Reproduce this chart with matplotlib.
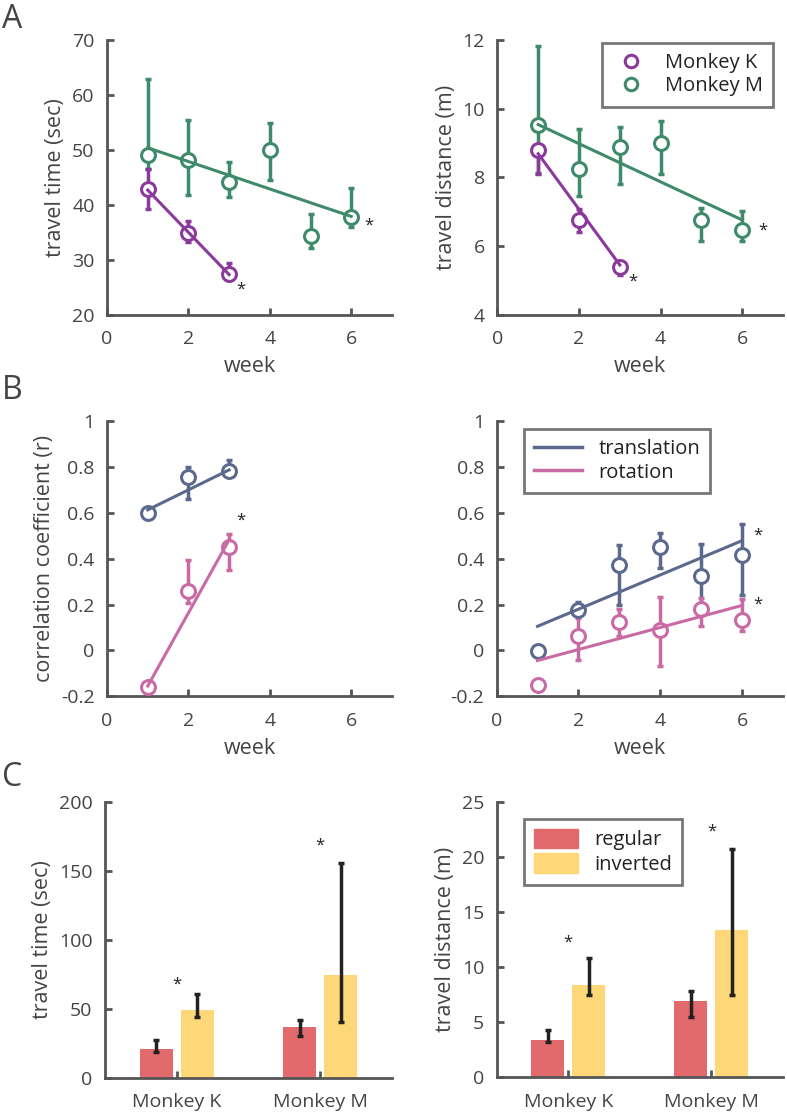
import matplotlib.pyplot as plt
import numpy as np

plt.rcParams['font.family'] = ['Open Sans', 'DejaVu Sans']

# ---- data ----
weeks = np.array([1, 2, 3, 4, 5, 6])

# panel A: travel time (sec)
time_K = [42.9, 34.9, 27.4]
time_K_lo = [39.3, 33.3, 26.3]
time_K_hi = [46.6, 37.1, 29.4]
time_M = [49.1, 48.2, 44.2, 50.0, 34.4, 37.8]
time_M_lo = [46.6, 41.8, 41.5, 44.5, 32.1, 35.9]
time_M_hi = [63.0, 55.4, 47.8, 55.0, 38.4, 43.0]
time_K_fit = [42.7, 27.3]
time_M_fit = [50.4, 37.9]

# panel A: travel distance (m)
dist_K = [8.79, 6.76, 5.40]
dist_K_lo = [8.11, 6.40, 5.15]
dist_K_hi = [8.95, 7.07, 5.55]
dist_M = [9.54, 8.26, 8.88, 9.01, 6.76, 6.47]
dist_M_lo = [8.13, 7.46, 7.82, 8.11, 6.16, 6.16]
dist_M_hi = [11.83, 9.42, 9.47, 9.64, 7.10, 7.02]
dist_K_fit = [8.69, 5.45]
dist_M_fit = [9.54, 6.76]

# panel B left (monkey K): correlation coefficient
trK = [0.598, 0.755, 0.780]
trK_lo = [0.590, 0.660, 0.770]
trK_hi = [0.605, 0.800, 0.827]
rotK = [-0.159, 0.257, 0.450]
rotK_lo = [-0.165, 0.206, 0.351]
rotK_hi = [-0.153, 0.395, 0.508]
trK_fit = [0.612, 0.786]
rotK_fit = [-0.155, 0.482]

# panel B right (monkey M)
trM = [-0.004, 0.177, 0.370, 0.450, 0.325, 0.417]
trM_lo = [-0.010, 0.160, 0.196, 0.361, 0.200, 0.243]
trM_hi = [0.003, 0.210, 0.460, 0.511, 0.464, 0.550]
rotM = [-0.149, 0.065, 0.122, 0.087, 0.180, 0.134]
rotM_lo = [-0.155, -0.040, 0.064, -0.067, 0.105, 0.085]
rotM_hi = [-0.143, 0.140, 0.180, 0.231, 0.230, 0.224]
trM_fit = [0.105, 0.478]
rotM_fit = [-0.044, 0.196]

# panel C: regular vs inverted
monkeys = ['Monkey K', 'Monkey M']
bar_time_reg = [21.0, 37.3]
bar_time_reg_lo = [18.5, 30.6]
bar_time_reg_hi = [27.2, 42.0]
bar_time_inv = [49.4, 74.7]
bar_time_inv_lo = [44.5, 40.9]
bar_time_inv_hi = [61.0, 155.5]
bar_dist_reg = [3.38, 6.92]
bar_dist_reg_lo = [3.20, 5.50]
bar_dist_reg_hi = [4.29, 7.82]
bar_dist_inv = [8.35, 13.36]
bar_dist_inv_lo = [7.46, 7.46]
bar_dist_inv_hi = [10.84, 20.67]

# ---- style ----
c_K = '#8b3a9c'
c_M = '#3f8a6a'
c_tr = '#5b6a8c'
c_rot = '#c96aa5'
c_reg = '#e36a6c'
c_inv = '#fed878'
txt = '#444444'
spine = '#555555'
TICK = 14
LAB = 15.5
LEG = 14.5

fig = plt.figure(figsize=(7.87, 11.16), dpi=100)


def style(ax):
    for s in ['top', 'right']:
        ax.spines[s].set_visible(False)
    for s in ['left', 'bottom']:
        ax.spines[s].set_color(spine)
        ax.spines[s].set_linewidth(2)
    ax.tick_params(direction='in', length=5, width=2, color=spine,
                   labelcolor=txt, labelsize=TICK)
    ax.tick_params(axis='x', pad=11)
    ax.tick_params(axis='y', pad=9)


def series(ax, x, y, lo, hi, fit, color):
    y = np.array(y)
    yerr = [y - np.array(lo), np.array(hi) - y]
    ax.errorbar(x, y, yerr=yerr, fmt='none', ecolor=color, elinewidth=2.5,
                capsize=2.5, capthick=2.5, zorder=2)
    ax.plot(x, y, 'o', mfc='white', mec=color, mew=2.2, ms=10, zorder=3)
    ax.plot([x[0], x[-1]], fit, '-', color=color, lw=2.2, zorder=4)


def star(ax, x, y):
    ax.text(x, y, '*', ha='center', va='center', fontsize=12, color='#222222')


def legend_box(ax, handles, labels, anchor, loc, **kw):
    leg = ax.legend(handles, labels, loc=loc, bbox_to_anchor=anchor,
                    fontsize=LEG, frameon=True, fancybox=False,
                    handletextpad=0.8, borderpad=0.5, labelspacing=0.15, **kw)
    leg.get_frame().set_edgecolor(spine)
    leg.get_frame().set_linewidth(2)
    for t in leg.get_texts():
        t.set_color('#222222')


# A left
ax = fig.add_axes([0.136, 0.718, 0.362, 0.246])
style(ax)
series(ax, weeks, time_M, time_M_lo, time_M_hi, time_M_fit, c_M)
series(ax, weeks[:3], time_K, time_K_lo, time_K_hi, time_K_fit, c_K)
star(ax, 3.28, 24.6)
star(ax, 6.43, 36.2)
ax.set_xlim(0, 7)
ax.set_ylim(20, 70)
ax.set_xticks([0, 2, 4, 6])
ax.set_yticks([20, 30, 40, 50, 60, 70])
ax.set_xlabel('week', fontsize=LAB, color=txt, labelpad=6)
ax.set_ylabel('travel time (sec)', fontsize=LAB, color=txt, labelpad=4)
fig.text(0.003, 0.997, 'A', fontsize=23, color=txt, va='top')

# A right
ax = fig.add_axes([0.632, 0.718, 0.363, 0.246])
style(ax)
series(ax, weeks, dist_M, dist_M_lo, dist_M_hi, dist_M_fit, c_M)
series(ax, weeks[:3], dist_K, dist_K_lo, dist_K_hi, dist_K_fit, c_K)
star(ax, 3.32, 4.95)
star(ax, 6.5, 6.45)
ax.set_xlim(0, 7)
ax.set_ylim(4, 12)
ax.set_xticks([0, 2, 4, 6])
ax.set_yticks([4, 6, 8, 10, 12])
ax.set_xlabel('week', fontsize=LAB, color=txt, labelpad=6)
ax.set_ylabel('travel distance (m)', fontsize=LAB, color=txt, labelpad=4)
hK, = ax.plot([], [], 'o', mfc='white', mec=c_K, mew=2.2, ms=9)
hM, = ax.plot([], [], 'o', mfc='white', mec=c_M, mew=2.2, ms=9)
legend_box(ax, [hK, hM], ['Monkey K', 'Monkey M'], (1.0, 1.025), 'upper right',
           handlelength=1.8)

# B left
ax = fig.add_axes([0.136, 0.376, 0.362, 0.247])
style(ax)
series(ax, weeks[:3], trK, trK_lo, trK_hi, trK_fit, c_tr)
series(ax, weeks[:3], rotK, rotK_lo, rotK_hi, rotK_fit, c_rot)
star(ax, 3.3, 0.565)
ax.set_xlim(0, 7)
ax.set_ylim(-0.2, 1)
ax.set_xticks([0, 2, 4, 6])
ax.set_yticks([-0.2, 0, 0.2, 0.4, 0.6, 0.8, 1])
ax.set_yticklabels(['-0.2', '0', '0.2', '0.4', '0.6', '0.8', '1'])
ax.set_xlabel('week', fontsize=LAB, color=txt, labelpad=6)
ax.set_ylabel('correlation coefficient (r)', fontsize=LAB, color=txt, labelpad=4)
fig.text(0.003, 0.665, 'B', fontsize=23, color=txt, va='top')

# B right
ax = fig.add_axes([0.631, 0.376, 0.364, 0.247])
style(ax)
series(ax, weeks, trM, trM_lo, trM_hi, trM_fit, c_tr)
series(ax, weeks, rotM, rotM_lo, rotM_hi, rotM_fit, c_rot)
star(ax, 6.38, 0.5)
star(ax, 6.38, 0.2)
ax.set_xlim(0, 7)
ax.set_ylim(-0.2, 1)
ax.set_xticks([0, 2, 4, 6])
ax.set_yticks([-0.2, 0, 0.2, 0.4, 0.6, 0.8, 1])
ax.set_yticklabels(['-0.2', '0', '0.2', '0.4', '0.6', '0.8', '1'])
ax.set_xlabel('week', fontsize=LAB, color=txt, labelpad=6)
htr, = ax.plot([], [], '-', color=c_tr, lw=2.5)
hrot, = ax.plot([], [], '-', color=c_rot, lw=2.5)
legend_box(ax, [htr, hrot], ['translation', 'rotation'], (0.06, 1.005),
           'upper left', handlelength=2.4)


def bars(ax, reg, reg_lo, reg_hi, inv, inv_lo, inv_hi):
    x = np.arange(1, len(monkeys) + 1)
    w = 0.23
    off = 0.143
    reg = np.array(reg)
    inv = np.array(inv)
    ax.bar(x - off, reg, w, color=c_reg, zorder=1)
    ax.bar(x + off, inv, w, color=c_inv, zorder=1)
    ax.errorbar(x - off, reg, yerr=[reg - np.array(reg_lo), np.array(reg_hi) - reg],
                fmt='none', ecolor='#222222', elinewidth=2.5, capsize=2.5,
                capthick=2.5, zorder=2)
    ax.errorbar(x + off, inv, yerr=[inv - np.array(inv_lo), np.array(inv_hi) - inv],
                fmt='none', ecolor='#222222', elinewidth=2.5, capsize=2.5,
                capthick=2.5, zorder=2)
    ax.set_xlim(0.5, 2.5)
    ax.set_xticks(x)
    ax.set_xticklabels(monkeys)


# C left
ax = fig.add_axes([0.1334, 0.034, 0.3645, 0.2476])
style(ax)
bars(ax, bar_time_reg, bar_time_reg_lo, bar_time_reg_hi,
     bar_time_inv, bar_time_inv_lo, bar_time_inv_hi)
star(ax, 1.0, 67.5)
star(ax, 2.0, 168.5)
ax.set_ylim(0, 200)
ax.set_yticks([0, 50, 100, 150, 200])
ax.set_ylabel('travel time (sec)', fontsize=LAB, color=txt, labelpad=4)
fig.text(0.003, 0.318, 'C', fontsize=23, color=txt, va='top')

# C right
ax = fig.add_axes([0.631, 0.0347, 0.364, 0.2469])
style(ax)
bars(ax, bar_dist_reg, bar_dist_reg_lo, bar_dist_reg_hi,
     bar_dist_inv, bar_dist_inv_lo, bar_dist_inv_hi)
star(ax, 1.0, 12.2)
star(ax, 2.0, 22.3)
ax.set_ylim(0, 25)
ax.set_yticks([0, 5, 10, 15, 20, 25])
ax.set_ylabel('travel distance (m)', fontsize=LAB, color=txt, labelpad=4)
hr = plt.Rectangle((0, 0), 1, 1, color=c_reg)
hi = plt.Rectangle((0, 0), 1, 1, color=c_inv)
legend_box(ax, [hr, hi], ['regular', 'inverted'], (0.06, 0.975), 'upper left',
           handlelength=2.2, handleheight=1.1)

fig.savefig('out.png', dpi=100, facecolor='white')
